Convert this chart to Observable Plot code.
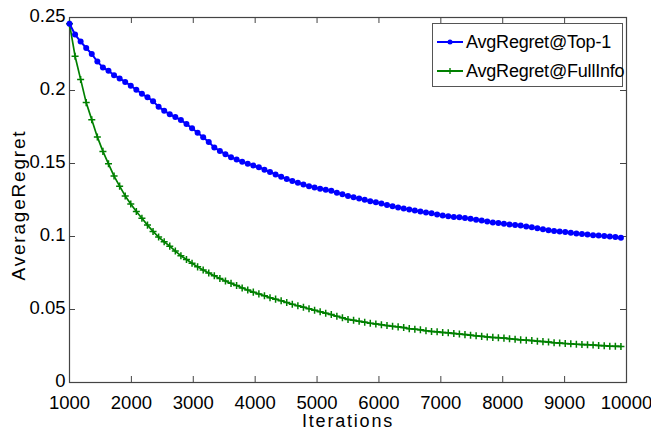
<!DOCTYPE html>
<html><head><meta charset="utf-8">
<script src="https://cdn.jsdelivr.net/npm/d3@7"></script>
<script src="https://cdn.jsdelivr.net/npm/@observablehq/plot@0.6"></script>
<style>
body{margin:0;background:#fff;}
#wrap{position:relative;width:651px;height:432px;font-family:"Liberation Sans",Arial,sans-serif;}
.legend{position:absolute;left:432px;top:23px;width:189px;height:62px;border:1px solid #555;background:#fff;}
.row{position:absolute;left:4px;height:26px;display:flex;align-items:center;font-size:18px;color:#000;white-space:nowrap;letter-spacing:-0.2px;}
.row svg{margin-right:2px;}
.ttl text{letter-spacing:1.8px;}
</style></head><body><div id="wrap"></div>
<script>
const iterations = [1000,1090,1180,1270,1360,1450,1540,1630,1720,1810,1900,1990,2080,2170,2260,2350,2440,2530,2620,2710,2800,2890,2980,3070,3160,3250,3340,3430,3520,3610,3700,3790,3880,3970,4060,4150,4240,4330,4420,4510,4600,4690,4780,4870,4960,5050,5140,5230,5320,5410,5500,5590,5680,5770,5860,5950,6040,6130,6220,6310,6400,6490,6580,6670,6760,6850,6940,7030,7120,7210,7300,7390,7480,7570,7660,7750,7840,7930,8020,8110,8200,8290,8380,8470,8560,8650,8740,8830,8920,9010,9100,9190,9280,9370,9460,9550,9640,9730,9820,9910];
const regretTop1 = [
0.2457,0.2383,0.2335,0.2291,0.2250,0.2198,0.2158,0.2135,0.2105,0.2083,
0.2058,0.2033,0.2005,0.1978,0.1953,0.1927,0.1888,0.1862,0.1837,0.1818,
0.1798,0.1770,0.1741,0.1710,0.1680,0.1648,0.1609,0.1586,0.1564,0.1542,
0.1527,0.1512,0.1499,0.1487,0.1474,0.1458,0.1441,0.1425,0.1409,0.1394,
0.1380,0.1368,0.1356,0.1345,0.1335,0.1327,0.1320,0.1313,0.1300,0.1289,
0.1278,0.1269,0.1260,0.1251,0.1242,0.1234,0.1226,0.1216,0.1207,0.1199,
0.1192,0.1185,0.1178,0.1171,0.1165,0.1159,0.1151,0.1144,0.1139,0.1134,
0.1131,0.1126,0.1121,0.1115,0.1109,0.1102,0.1096,0.1092,0.1088,0.1083,
0.1079,0.1075,0.1069,0.1063,0.1056,0.1050,0.1043,0.1038,0.1035,0.1030,
0.1025,0.1021,0.1017,0.1013,0.1009,0.1006,0.1003,0.1000,0.0996,0.0991];
const regretFullInfo = [
0.2457,0.2235,0.2076,0.1917,0.1800,0.1682,0.1583,0.1498,0.1414,0.1345,
0.1278,0.1223,0.1171,0.1125,0.1078,0.1035,0.0996,0.0964,0.0934,0.0900,
0.0868,0.0842,0.0817,0.0792,0.0770,0.0750,0.0731,0.0712,0.0695,0.0679,
0.0664,0.0648,0.0633,0.0619,0.0607,0.0594,0.0581,0.0571,0.0560,0.0548,
0.0536,0.0526,0.0516,0.0505,0.0495,0.0485,0.0475,0.0465,0.0454,0.0443,
0.0432,0.0426,0.0419,0.0413,0.0406,0.0401,0.0396,0.0390,0.0385,0.0381,
0.0376,0.0369,0.0365,0.0361,0.0355,0.0350,0.0347,0.0343,0.0340,0.0336,
0.0332,0.0328,0.0324,0.0320,0.0316,0.0312,0.0309,0.0307,0.0304,0.0300,
0.0296,0.0292,0.0290,0.0287,0.0283,0.0280,0.0277,0.0273,0.0270,0.0267,
0.0265,0.0262,0.0260,0.0259,0.0257,0.0254,0.0252,0.0249,0.0248,0.0247];
const seriesNames = ["AvgRegret@Top-1","AvgRegret@FullInfo"];
const xTicks = [1000,2000,3000,4000,5000,6000,7000,8000,9000,10000];
const yTicks = [0,0.05,0.1,0.15,0.2,0.25];
const xInner = [2000,3000,4000,5000,6000,7000,8000,9000];
const yInner = [0.05,0.1,0.15,0.2];

const top1Rows = iterations.map((it,i)=>({it, v: regretTop1[i]}));
const fullRows = iterations.map((it,i)=>({it, v: regretFullInfo[i]}));

const W=651,H=432,mL=69,mR=25,mT=17,mB=50;
const pw=W-mL-mR, ph=H-mT-mB, tl=6;
const axisCol="#444";

const chart = Plot.plot({
  width:W,height:H,marginLeft:mL,marginRight:mR,marginTop:mT,marginBottom:mB,
  style:{fontFamily:"'Liberation Sans',Arial,sans-serif",fontSize:"18.5px",color:"#000",background:"#fff"},
  x:{domain:[1000,10000]},
  y:{domain:[0,0.25]},
  marks:[
    Plot.tickX(xInner,{x:d=>d,stroke:axisCol,insetTop:ph-tl}),
    Plot.tickX(xInner,{x:d=>d,stroke:axisCol,insetBottom:ph-tl}),
    Plot.tickY(yInner,{y:d=>d,stroke:axisCol,insetLeft:pw-tl}),
    Plot.tickY(yInner,{y:d=>d,stroke:axisCol,insetRight:pw-tl}),
    Plot.frame({stroke:axisCol,strokeWidth:1.2}),
    Plot.axisX(xTicks,{tickSize:0,tickPadding:13,fontSize:18.5,tickFormat:d=>String(d),
      label:null}),
    Plot.axisY(yTicks,{tickSize:0,tickPadding:4,dy:-1.5,fontSize:18.5,tickFormat:d=>String(d),
      label:null}),
    Plot.text(["Iterations"],{frameAnchor:"bottom",dy:39,fontSize:18,text:d=>d,lineAnchor:"middle",textAnchor:"middle",className:"ttl"}),
    Plot.text(["AverageRegret"],{frameAnchor:"left",dx:-51,dy:5,rotate:-90,fontSize:19,text:d=>d,lineAnchor:"middle",textAnchor:"middle",className:"ttl"}),
    Plot.line(fullRows,{x:"it",y:"v",stroke:"#008000",strokeWidth:1.7}),
    Plot.dot(fullRows,{x:"it",y:"v",symbol:"plus",stroke:"#008000",strokeWidth:1.5,r:2.4}),
    Plot.line(top1Rows,{x:"it",y:"v",stroke:"#0000ff",strokeWidth:2}),
    Plot.dot(top1Rows,{x:"it",y:"v",fill:"#0000ff",stroke:"none",r:3})
  ]
});
const wrap=document.getElementById("wrap");
wrap.appendChild(chart);

const leg=document.createElement("div");
leg.className="legend";
const styles=[{c:"#0000ff",m:"dot"},{c:"#008000",m:"plus"}];
seriesNames.forEach((name,i)=>{
  const row=document.createElement("div");
  row.className="row";
  row.style.top=(5+i*29)+"px";
  const s=styles[i];
  const marker = s.m==="dot"
    ? `<circle cx="13" cy="6" r="2.5" fill="${s.c}"/>`
    : `<path d="M13 3v6M10 6h6" stroke="${s.c}" stroke-width="1.4"/>`;
  row.innerHTML=`<svg width="27" height="12"><line x1="0" x2="26" y1="6" y2="6" stroke="${s.c}" stroke-width="2"/>${marker}</svg><span>${name}</span>`;
  leg.appendChild(row);
});
wrap.appendChild(leg);
</script></body></html>
